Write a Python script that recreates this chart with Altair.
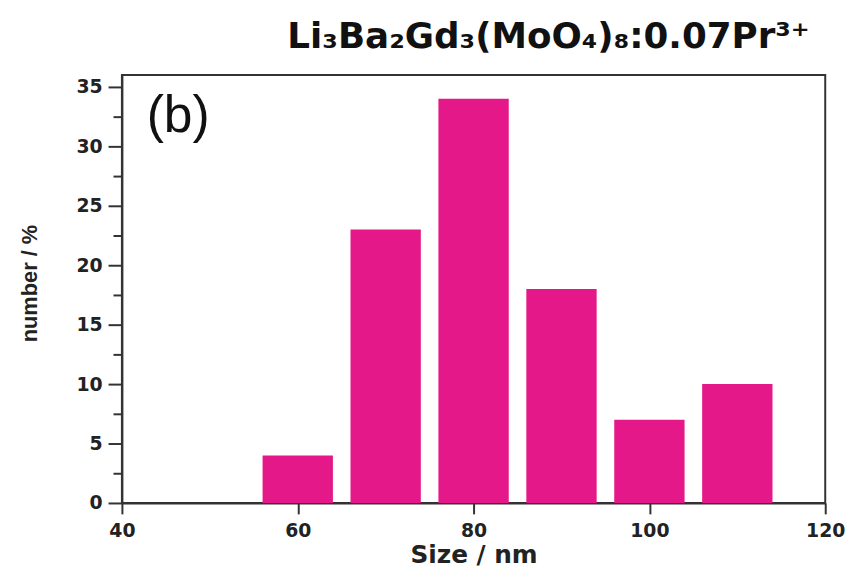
import altair as alt
import pandas as pd

# Data
size_nm = [60, 70, 80, 90, 100, 110]
number_pct = [4, 23, 34, 18, 7, 10]
bin_half = 4  # bars span centre +/- 4 nm
y_ticks = [i * 2.5 for i in range(15)]
x_ticks = [40, 60, 80, 100, 120]
title_text = "Li₃Ba₂Gd₃(MoO₄)₈:0.07Pr³⁺"
panel_label = "(b)"

df = pd.DataFrame({"size": size_nm, "pct": number_pct})

bars = (
    alt.Chart(df)
    .transform_calculate(
        x0=f"datum.size - {bin_half}", x1=f"datum.size + {bin_half}", base="0"
    )
    .mark_bar(color="#E5188A")
    .encode(
        x=alt.X(
            "x0:Q",
            scale=alt.Scale(domain=[40, 120], nice=False, zero=False),
            axis=alt.Axis(
                values=x_ticks,
                title="Size / nm",
                titleFont="DejaVu Sans",
                titleFontSize=25,
                titleFontWeight="bold",
                titleColor="#222",
                titleBaseline="middle",
                titleY=52,
                labelFont="DejaVu Sans",
                labelFontSize=19,
                labelFontWeight="bold",
                labelColor="#222",
                labelPadding=8,
                tickSize=11,
                tickWidth=2,
                tickColor="#333",
                domainColor="#333",
                domainWidth=2,
                grid=False,
                labelFlush=False,
            ),
        ),
        x2="x1:Q",
        y=alt.Y(
            "pct:Q",
            scale=alt.Scale(domain=[0, 36], nice=False),
            axis=alt.Axis(
                values=y_ticks,
                labelExpr="datum.value % 5 === 0 ? datum.label : ''",
                tickSize={"expr": "datum.value % 5 === 0 ? 14 : 9"},
                title="number / %",
                titleFont="Liberation Sans",
                titleFontSize=22,
                titleFontWeight="bold",
                titleColor="#222",
                titleAngle=-90,
                titleBaseline="middle",
                titleX=-93,
                titleY=210,
                labelFont="DejaVu Sans",
                labelFontSize=19,
                labelFontWeight="bold",
                labelColor="#222",
                labelPadding=6,
                tickWidth=2,
                tickColor="#333",
                domainColor="#333",
                domainWidth=2,
                grid=False,
                labelFlush=False,
            ),
        ),
        y2="base:Q",
    )
)

label = (
    alt.Chart(pd.DataFrame({"t": [panel_label]}))
    .mark_text(
        font="Liberation Sans",
        fontSize=52,
        align="left",
        baseline="middle",
        color="#111",
    )
    .encode(x=alt.value(25), y=alt.value(41), text="t:N")
)

chart = (
    alt.layer(bars, label)
    .properties(
        width=710,
        height=432,
        view=alt.ViewBackground(stroke="#333", strokeWidth=2, strokeOpacity=1),
        title=alt.TitleParams(
            text=title_text,
            font="DejaVu Sans",
            fontSize=36,
            fontWeight="bold",
            color="#111",
            anchor="start",
            frame="group",
            dx=167,
            offset=19,
        ),
        autosize=alt.AutoSizeParams(type="none"),
        padding={"left": 115, "top": 65, "right": 25, "bottom": 67},
    )
    .configure_view(stroke="#333", strokeWidth=2, strokeOpacity=1)
    .configure(background="white")
)

chart.save("out.html", embed_options={"renderer": "svg", "actions": False})
